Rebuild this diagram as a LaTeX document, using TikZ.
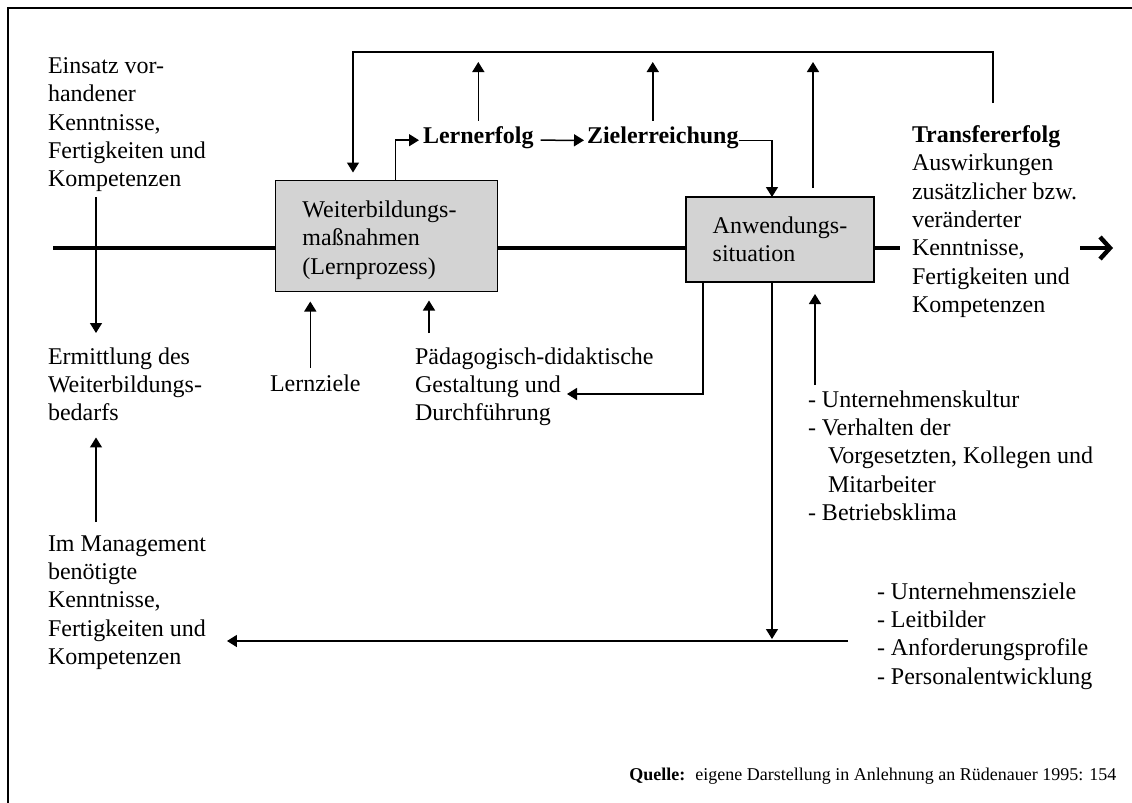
\documentclass[tikz,border=0pt]{standalone}
\usepackage{fontspec}
\setmainfont{Liberation Serif}
\usetikzlibrary{arrows.meta}
\definecolor{boxgray}{RGB}{211,211,211}
\begin{document}
\begin{tikzpicture}[x=0.5pt,y=-0.5pt,
  txt/.style={inner sep=0pt, outer sep=0pt, align=left, anchor=north west,
              font=\fontsize{12}{14.15}\selectfont},
  word/.style={inner sep=0pt, outer sep=0pt, anchor=base west,
               font=\fontsize{12}{14.15}\selectfont},
  stage/.style={draw=black, line width=0.75pt, fill=boxgray, inner sep=0pt,
                outer sep=0pt, align=left, font=\fontsize{12}{14.15}\selectfont},
  flow/.style={line width=0.75pt, -{Triangle[length=5pt,width=6pt]}},
  axis/.style={line width=2.2pt},
]
\useasboundingbox (0,0) rectangle (1132,803);

% frame (top and left edges)
\draw[line width=1.2pt] (8,803) -- (8,8) -- (1132,8);

% process boxes
\node[stage, minimum width=111pt, minimum height=55.5pt] (wb) at (386.5,236)
  {\rule{0pt}{12.4pt}Weiterbildungs-\rule{7pt}{0pt}\\maßnahmen\\(Lernprozess)};
\node[stage, minimum width=94pt, minimum height=42.5pt] (aw) at (780,239.5)
  {Anwendungs-\\situation};

% texts on the left
\node[txt] (einsatz) at (48,57.6)
  {Einsatz vor-\\handener\\Kenntnisse,\\Fertigkeiten und\\Kompetenzen};
\node[txt] (ermittlung) at (48,347.6)
  {Ermittlung des\\Weiterbildungs-\\bedarfs};
\node[txt] (mgmt) at (48,535.6)
  {Im Management\\benötigte\\Kenntnisse,\\Fertigkeiten und\\Kompetenzen};

% results along the top
\node[word, font=\fontsize{12}{14.15}\selectfont\bfseries] (lern) at (423,143) {Lernerfolg};
\node[word, font=\fontsize{12}{14.15}\selectfont\bfseries] (ziel) at (587,143) {Zielerreichung};
\node[txt] (trans) at (912,125.6)
  {\textbf{Transfererfolg}\\Auswirkungen\\zusätzlicher bzw.\\veränderter\\Kenntnisse,\\Fertigkeiten und\\Kompetenzen};

% inputs below
\node[word] (lz) at (270,391) {Lernziele};
\node[txt] (pd) at (415,347.6)
  {Pädagogisch-didaktische\\Gestaltung und\\Durchführung};
\node[txt] (uk) at (808,390.6)
  {- Unternehmenskultur\\- Verhalten der\\\hspace*{10pt}Vorgesetzten, Kollegen und\\\hspace*{10pt}Mitarbeiter\\- Betriebsklima};
\node[txt] (uz) at (877,582.6)
  {- Unternehmensziele\\- Leitbilder\\- Anforderungsprofile\\- Personalentwicklung};

% source
\node[inner sep=0pt, anchor=base west, font=\fontsize{9}{11}\selectfont] (src) at (629,780)
  {\textbf{Quelle:}\hspace{5pt}eigene Darstellung in Anlehnung an Rüdenauer 1995: 154};

% helper coordinates
\coordinate (axL) at (53,248);
\coordinate (axR) at (900,248);
\coordinate (outA) at (1080,248);
\coordinate (outB) at (1113,248);
\coordinate (fbR) at (993,52);
\coordinate (fbL) at (353,52);
\coordinate (upY) at (0,62);
\coordinate (leftcol) at (96,0);
\coordinate (gestEnd) at (567,394);
\coordinate (bottomR) at (848,641);
\coordinate (wbTop) at ([xshift=60pt]wb.north west);
\coordinate (zUp) at ([xshift=-5pt]ziel.north);
\coordinate (awUp) at ([xshift=16.5pt]aw.north);
\coordinate (lzUp) at ([xshift=-2.5pt]lz.north);
\coordinate (pdUp) at ([xshift=7pt]pd.north west);
\coordinate (awL) at ([xshift=8.5pt]aw.south west);
\coordinate (awD) at ([xshift=-4pt]aw.south);
\coordinate (ukUp) at ([xshift=3.5pt]uk.north west);
\coordinate (lernIn) at ([yshift=-1.5pt]lern.west);
\coordinate (lernOut) at ([yshift=-1.5pt]lern.east);
\coordinate (zielIn) at ([yshift=-1.5pt]ziel.west);
\coordinate (zielOut) at ([yshift=-1.5pt]ziel.east);

% main time axis
\draw[axis] (axL) -- (axL -| wb.west);
\draw[axis] (wb.east |- axL) -- (axL -| aw.west);
\draw[axis] (aw.east |- axL) -- (axR);
\draw[axis, -{Straight Barb[length=5pt,width=11pt]}] (outA) -- (outB);

% feedback from transfer success to the training measures
\draw[flow, shorten <=11.3pt, shorten >=4pt]
  (trans.north -| fbR) -- (fbR) -- (fbL) -- (wb.north -| fbL);

% chain of results
\draw[flow, shorten >=2pt] (wbTop) |- (lernIn);
\draw[flow, shorten <=3.5pt, shorten >=1.5pt] (lernOut) -- (zielIn);
\draw[flow] (zielOut) -| ([xshift=-4pt]aw.north);
\draw[flow, shorten <=2.8pt] (lern.north) -- (lern.north |- upY);
\draw[flow, shorten <=2.8pt] (zUp) -- (zUp |- upY);
\draw[flow, shorten <=4.5pt] (awUp) -- (awUp |- upY);

% inputs to the boxes
\draw[flow, shorten <=3.3pt, shorten >=5pt] (lzUp) -- (lzUp |- wb.south);
\draw[flow, shorten <=7.3pt, shorten >=4.5pt] (pdUp) -- (pdUp |- wb.south);
\draw[flow] (awL) |- (gestEnd);
\draw[flow, shorten <=2.8pt, shorten >=6pt] (ukUp) -- (ukUp |- aw.south);

% lower feedback
\draw[flow, shorten >=1pt] (awD) -- (awD |- bottomR);
\draw[flow, shorten >=10.5pt] (bottomR) -- (mgmt.east |- bottomR);

% left column
\draw[flow, shorten <=2.8pt, shorten >=7.3pt] (einsatz.south -| leftcol) -- (ermittlung.north -| leftcol);
\draw[flow, shorten <=6.8pt, shorten >=8.2pt] (mgmt.north -| leftcol) -- (ermittlung.south -| leftcol);
\end{tikzpicture}
\end{document}
